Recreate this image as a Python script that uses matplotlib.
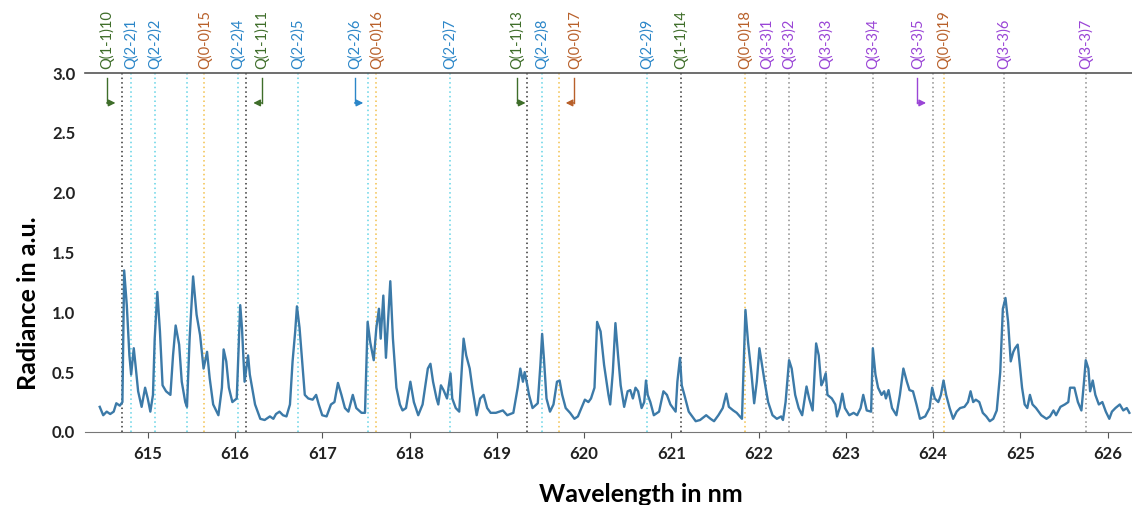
import matplotlib
matplotlib.use("Agg")
import matplotlib.pyplot as plt
import matplotlib.transforms as mtransforms

plt.rcParams['font.family'] = ['Lato', 'DejaVu Sans']

# spectrum (nm, a.u.)
wavelength = [
    614.45, 614.49, 614.53, 614.57, 614.61, 614.64, 614.68, 614.71, 614.73, 614.76,
    614.79, 614.81, 614.84, 614.86, 614.89, 614.93, 614.97, 615.00, 615.03, 615.06,
    615.08, 615.11, 615.14, 615.17, 615.21, 615.26, 615.29, 615.32, 615.36, 615.39,
    615.43, 615.45, 615.48, 615.52, 615.56, 615.60, 615.64, 615.68, 615.71, 615.75,
    615.81, 615.85, 615.87, 615.90, 615.93, 615.97, 616.02, 616.06, 616.08, 616.11,
    616.15, 616.17, 616.23, 616.29, 616.34, 616.40, 616.44, 616.47, 616.51, 616.55,
    616.59, 616.63, 616.66, 616.69, 616.71, 616.74, 616.77, 616.80, 616.84, 616.89,
    616.93, 616.96, 617.00, 617.05, 617.10, 617.14, 617.18, 617.22, 617.26, 617.30,
    617.35, 617.39, 617.45, 617.49, 617.52, 617.55, 617.59, 617.62, 617.65, 617.67,
    617.70, 617.73, 617.78, 617.81, 617.85, 617.89, 617.92, 617.96, 618.01, 618.05,
    618.10, 618.15, 618.21, 618.24, 618.27, 618.31, 618.33, 618.36, 618.39, 618.43,
    618.47, 618.49, 618.53, 618.57, 618.62, 618.65, 618.69, 618.72, 618.77, 618.81,
    618.85, 618.89, 618.93, 618.99, 619.07, 619.12, 619.19, 619.24, 619.27, 619.30,
    619.32, 619.35, 619.37, 619.41, 619.47, 619.50, 619.52, 619.54, 619.57, 619.61,
    619.65, 619.69, 619.72, 619.75, 619.79, 619.84, 619.89, 619.93, 619.97, 620.01,
    620.05, 620.08, 620.12, 620.15, 620.19, 620.23, 620.28, 620.30, 620.33, 620.36,
    620.39, 620.42, 620.46, 620.50, 620.53, 620.56, 620.59, 620.62, 620.66, 620.69,
    620.71, 620.73, 620.76, 620.80, 620.86, 620.91, 620.95, 620.99, 621.05, 621.07,
    621.10, 621.12, 621.15, 621.20, 621.28, 621.33, 621.40, 621.45, 621.49, 621.54,
    621.59, 621.63, 621.66, 621.71, 621.75, 621.81, 621.83, 621.85, 621.88, 621.92,
    621.95, 621.98, 622.01, 622.04, 622.07, 622.11, 622.16, 622.21, 622.26, 622.28,
    622.31, 622.35, 622.38, 622.42, 622.46, 622.50, 622.55, 622.58, 622.62, 622.66,
    622.69, 622.72, 622.74, 622.77, 622.79, 622.84, 622.88, 622.90, 622.93, 622.96,
    622.99, 623.04, 623.09, 623.13, 623.17, 623.20, 623.24, 623.29, 623.31, 623.34,
    623.37, 623.41, 623.44, 623.46, 623.49, 623.53, 623.58, 623.62, 623.66, 623.70,
    623.73, 623.77, 623.81, 623.85, 623.91, 623.96, 623.99, 624.02, 624.06, 624.09,
    624.12, 624.15, 624.19, 624.23, 624.27, 624.31, 624.36, 624.40, 624.43, 624.46,
    624.49, 624.53, 624.57, 624.61, 624.65, 624.69, 624.73, 624.77, 624.80, 624.83,
    624.86, 624.89, 624.92, 624.94, 624.97, 624.99, 625.02, 625.05, 625.08, 625.11,
    625.14, 625.18, 625.24, 625.30, 625.34, 625.38, 625.41, 625.46, 625.51, 625.55,
    625.57, 625.62, 625.66, 625.70, 625.73, 625.75, 625.78, 625.80, 625.83, 625.86,
    625.90, 625.94, 625.98, 626.02, 626.05, 626.09, 626.14, 626.18, 626.22, 626.25,
]
radiance = [
    0.21, 0.14, 0.17, 0.15, 0.17, 0.24, 0.22, 0.25, 1.35, 1.06,
    0.64, 0.48, 0.70, 0.56, 0.34, 0.21, 0.37, 0.28, 0.17, 0.31,
    0.78, 1.17, 0.84, 0.39, 0.34, 0.31, 0.64, 0.89, 0.73, 0.42,
    0.25, 0.21, 0.78, 1.30, 0.98, 0.81, 0.53, 0.67, 0.45, 0.23,
    0.14, 0.37, 0.69, 0.59, 0.37, 0.25, 0.28, 1.06, 0.87, 0.42,
    0.64, 0.48, 0.23, 0.11, 0.10, 0.13, 0.11, 0.15, 0.17, 0.14,
    0.13, 0.23, 0.59, 0.84, 1.05, 0.87, 0.59, 0.31, 0.28, 0.27,
    0.31, 0.23, 0.14, 0.13, 0.23, 0.25, 0.41, 0.31, 0.20, 0.17,
    0.31, 0.20, 0.16, 0.16, 0.92, 0.75, 0.60, 0.87, 1.03, 0.78,
    1.14, 0.62, 1.26, 0.78, 0.37, 0.23, 0.18, 0.20, 0.42, 0.25,
    0.14, 0.23, 0.53, 0.57, 0.42, 0.28, 0.23, 0.39, 0.35, 0.28,
    0.49, 0.28, 0.20, 0.17, 0.78, 0.64, 0.53, 0.37, 0.14, 0.28,
    0.31, 0.20, 0.16, 0.16, 0.18, 0.14, 0.16, 0.37, 0.53, 0.42,
    0.50, 0.39, 0.31, 0.20, 0.24, 0.56, 0.82, 0.62, 0.28, 0.17,
    0.23, 0.42, 0.43, 0.31, 0.20, 0.16, 0.11, 0.13, 0.20, 0.27,
    0.25, 0.28, 0.37, 0.92, 0.84, 0.56, 0.31, 0.23, 0.50, 0.91,
    0.64, 0.39, 0.21, 0.34, 0.35, 0.28, 0.37, 0.34, 0.20, 0.25,
    0.43, 0.31, 0.25, 0.14, 0.17, 0.34, 0.31, 0.23, 0.17, 0.42,
    0.62, 0.39, 0.31, 0.17, 0.09, 0.10, 0.14, 0.11, 0.09, 0.14,
    0.20, 0.32, 0.21, 0.18, 0.16, 0.11, 0.56, 1.02, 0.75, 0.48,
    0.24, 0.42, 0.70, 0.56, 0.42, 0.25, 0.14, 0.11, 0.13, 0.10,
    0.25, 0.60, 0.53, 0.31, 0.20, 0.14, 0.38, 0.28, 0.18, 0.74,
    0.64, 0.39, 0.42, 0.49, 0.31, 0.28, 0.23, 0.13, 0.20, 0.32,
    0.20, 0.14, 0.16, 0.14, 0.20, 0.31, 0.18, 0.17, 0.70, 0.48,
    0.37, 0.31, 0.34, 0.28, 0.35, 0.20, 0.14, 0.31, 0.53, 0.42,
    0.35, 0.34, 0.23, 0.11, 0.13, 0.20, 0.37, 0.28, 0.25, 0.31,
    0.43, 0.31, 0.20, 0.11, 0.17, 0.20, 0.21, 0.25, 0.34, 0.25,
    0.27, 0.25, 0.16, 0.13, 0.09, 0.11, 0.18, 0.50, 1.03, 1.12,
    0.92, 0.59, 0.67, 0.70, 0.73, 0.59, 0.37, 0.23, 0.20, 0.31,
    0.23, 0.20, 0.14, 0.11, 0.13, 0.18, 0.14, 0.21, 0.23, 0.25,
    0.37, 0.37, 0.25, 0.18, 0.42, 0.60, 0.53, 0.34, 0.43, 0.31,
    0.23, 0.25, 0.17, 0.11, 0.17, 0.20, 0.23, 0.18, 0.20, 0.16,
]

# line positions (nm), labels, band; empty label = unlabeled line
line_pos = [614.71, 614.81, 615.08, 615.45, 615.65, 616.03, 616.13, 616.72,
            617.52, 617.62, 618.46, 619.35, 619.52, 619.71, 620.72, 621.11,
            621.84, 622.09, 622.35, 622.77, 623.31, 624.00, 624.12, 624.81, 625.75]
line_labels = ['Q(1-1)10', 'Q(2-2)1', 'Q(2-2)2', '', 'Q(0-0)15', 'Q(2-2)4', 'Q(1-1)11',
               'Q(2-2)5', 'Q(2-2)6', 'Q(0-0)16', 'Q(2-2)7', 'Q(1-1)13', 'Q(2-2)8',
               'Q(0-0)17', 'Q(2-2)9', 'Q(1-1)14', 'Q(0-0)18', 'Q(3-3)1', 'Q(3-3)2',
               'Q(3-3)3', 'Q(3-3)4', 'Q(3-3)5', 'Q(0-0)19', 'Q(3-3)6', 'Q(3-3)7']
line_band = ['11', '22', '22', '22', '00', '22', '11', '22', '22', '00', '22', '11', '22',
             '00', '22', '11', '00', '33', '33', '33', '33', '33', '00', '33', '33']
# labels moved aside (drawn with an arrow to their line)
label_shift = {'Q(1-1)10': 614.53, 'Q(1-1)11': 616.31, 'Q(2-2)6': 617.37,
               'Q(1-1)13': 619.23, 'Q(0-0)17': 619.89, 'Q(3-3)5': 623.82}

line_colors = {'11': '#333333', '22': '#62d3e6', '00': '#f2c04a', '33': '#8c8c8c'}
text_colors = {'11': '#3f6e2a', '22': '#2b86c8', '00': '#b8602a', '33': '#9a45d6'}

fig = plt.figure(figsize=(11.32, 5.05), dpi=100)
ax = fig.add_axes([0.075, 0.1446, 0.925, 0.7108])

for x, lab, b in zip(line_pos, line_labels, line_band):
    ax.axvline(x, color=line_colors[b], ls=(0, (1, 2)), lw=1.1, zorder=1)

ax.plot(wavelength, radiance, color='#3c7aa8', lw=1.7, zorder=3)

trans = mtransforms.blended_transform_factory(ax.transData, ax.transAxes)
for x, lab, b in zip(line_pos, line_labels, line_band):
    if not lab:
        continue
    c = text_colors[b]
    lx = label_shift.get(lab, x)
    ax.text(lx, 1.012, lab, rotation=90, ha='center', va='bottom', color=c,
            fontsize=10.5, transform=trans)
    if lab in label_shift:
        d = 0.1 if x > lx else -0.1
        ax.plot([lx, lx], [2.96, 2.75], color=c, lw=1, zorder=4)
        ax.annotate('', xy=(lx + d, 2.75), xytext=(lx, 2.75),
                    arrowprops=dict(arrowstyle='-|>', color=c, lw=1,
                                    mutation_scale=10, shrinkA=0, shrinkB=0))

ax.set_xlim(614.28, 626.28)
ax.set_ylim(0, 3.0)
ax.set_yticks([0.0, 0.5, 1.0, 1.5, 2.0, 2.5, 3.0])
ax.set_xticks(range(615, 627))
ax.tick_params(axis='y', length=0, pad=7, labelsize=12)
ax.tick_params(axis='x', length=4, direction='out', pad=6, labelsize=12, color='#555555')
for t in ax.get_xticklabels() + ax.get_yticklabels():
    t.set_fontweight('bold')
    t.set_color('#222222')
for s in ['left', 'right']:
    ax.spines[s].set_visible(False)
ax.spines['top'].set_color('#555555')
ax.spines['bottom'].set_color('#777777')
ax.spines['top'].set_linewidth(1.2)

ax.set_xlabel('Wavelength in nm', fontsize=18, fontweight='bold')
ax.xaxis.set_label_coords(0.531, -0.143)
ax.set_ylabel('Radiance in a.u.', fontsize=18, fontweight='bold')
ax.yaxis.set_label_coords(-0.043, 0.36)

fig.savefig('out.png', dpi=100)
